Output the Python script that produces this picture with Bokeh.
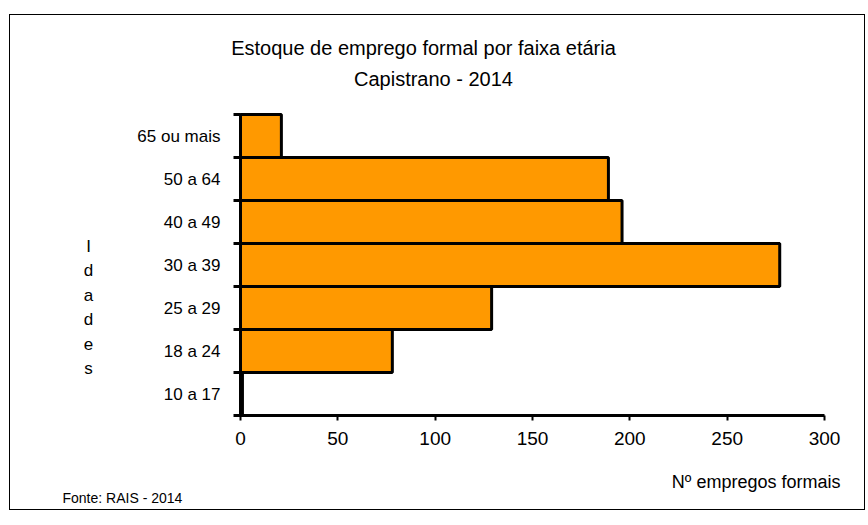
from bokeh.plotting import figure
from bokeh.models import Range1d, FixedTicker, Label, ColumnDataSource
from bokeh.embed import file_html
from bokeh.resources import INLINE

# ---- data ----
categories = ["10 a 17", "18 a 24", "25 a 29", "30 a 39", "40 a 49", "50 a 64", "65 ou mais"]
values = [1, 78, 129, 277, 196, 189, 21]
x_ticks = [0, 50, 100, 150, 200, 250, 300]
title_line1 = "Estoque de emprego formal por faixa etária"
title_line2 = "Capistrano - 2014"
y_title = "Idades"
x_title = "Nº empregos formais"
source_note = "Fonte: RAIS - 2014"

FONT = "Liberation Sans"

# ---- layout (canvas pixels) ----
W, H = 856, 496
FL, FR = 230, 814   # pixel of x=0 and x=max
FT, FB = 99, 400    # pixel of top and bottom of category band

n = len(categories)
xmax = x_ticks[-1]
xs = (FR - FL) / xmax
ysc = (FB - FT) / n
x_start = -FL / xs
x_end = xmax + (W - FR) / xs
y_start = -(H - FB) / ysc
y_end = n + FT / ysc

ys = [i + 0.5 for i in range(n)]
src = ColumnDataSource(dict(y=ys, v=values, cat=categories))

p = figure(width=W, height=H,
           x_range=Range1d(x_start, x_end), y_range=Range1d(y_start, y_end),
           output_backend="svg", toolbar_location=None,
           min_border_left=0, min_border_right=0,
           min_border_top=0, min_border_bottom=0)
p.margin = (14, 0, 0, 9)
p.styles = {"border": "1px solid black"}
p.outline_line_color = None
p.xgrid.visible = False
p.ygrid.visible = False
p.background_fill_color = "white"
p.border_fill_color = "white"

p.hbar(y="y", right="v", left=0, height=1.0, source=src,
       fill_color="#FF9900", line_color="black", line_width=3)

# x axis
xa = p.xaxis[0]
xa.fixed_location = 0
xa.bounds = (0, xmax)
xa.ticker = FixedTicker(ticks=x_ticks)
xa.axis_line_width = 3
xa.axis_line_color = "black"
xa.major_tick_out = 5
xa.major_tick_in = 0
xa.major_tick_line_width = 2
xa.minor_tick_out = 0
xa.minor_tick_in = 0
xa.major_label_standoff = 11
xa.major_label_text_font = FONT
xa.major_label_text_font_size = "19px"
xa.major_label_text_color = "black"

# y axis
ya = p.yaxis[0]
ya.fixed_location = 0
ya.bounds = (0, n)
ya.ticker = FixedTicker(ticks=ys, minor_ticks=list(range(n + 1)))
ya.axis_line_width = 3
ya.axis_line_color = "black"
ya.major_tick_out = 0
ya.major_tick_in = 0
ya.minor_tick_out = 7
ya.minor_tick_in = 0
ya.minor_tick_line_width = 3
ya.minor_tick_line_color = "black"
ya.major_label_standoff = 13
ya.major_label_text_font = FONT
ya.major_label_text_font_size = "17px"
ya.major_label_text_color = "black"
ya.major_label_overrides = {y: c for y, c in zip(ys, categories)}

def add_text(txt, sx, sy, size, align="center"):
    # sx, sy in canvas pixels from top-left
    p.add_layout(Label(x=sx, y=H - sy, x_units="screen", y_units="screen",
                       text=txt, text_align=align, text_baseline="middle",
                       text_font=FONT, text_font_size=size, text_color="black"))

add_text(title_line1, 413, 32, "20px")
add_text(title_line2, 423, 63, "20px")
for i, ch in enumerate(y_title):
    add_text(ch, 78, 231 + 24.4 * i, "17px")
add_text(x_title, 830, 466, "18px", align="right")
add_text(source_note, 52, 482, "14px", align="left")

open("out.html", "w").write(file_html(p, INLINE))
